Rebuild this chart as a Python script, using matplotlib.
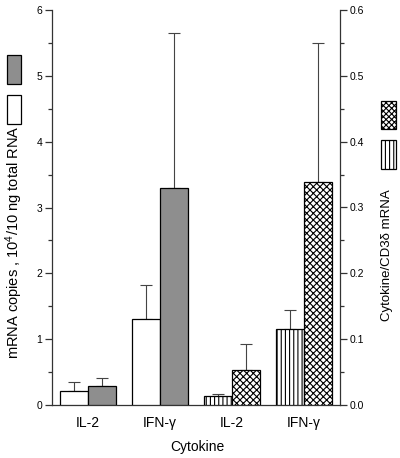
import numpy as np
import matplotlib
matplotlib.use("Agg")
import matplotlib.pyplot as plt
from matplotlib.patches import Rectangle
from matplotlib.ticker import MultipleLocator

plt.rcParams['font.family'] = ['Liberation Sans', 'DejaVu Sans']
plt.rcParams['mathtext.fontset'] = 'custom'
plt.rcParams['mathtext.rm'] = 'Liberation Sans'
plt.rcParams['mathtext.default'] = 'regular'
plt.rcParams['hatch.linewidth'] = 0.8

# data
groups = ["IL-2", "IFN-\u03b3", "IL-2", "IFN-\u03b3"]
# left axis: mRNA copies
copies_white = [0.22, 1.30]
copies_white_err = [0.13, 0.52]
copies_gray = [0.29, 3.30]
copies_gray_err = [0.12, 2.35]
# right axis: cytokine / CD3 delta ratio
ratio_vert = [0.013, 0.115]
ratio_vert_err = [0.003, 0.030]
ratio_cross = [0.053, 0.338]
ratio_cross_err = [0.040, 0.212]

W, H = 400, 458
fig = plt.figure(figsize=(W / 100, H / 100), dpi=100)
ax = fig.add_axes([52 / W, (H - 405) / H, 288 / W, 395 / H])
ax2 = ax.twinx()

centers = np.arange(len(groups)) + 0.5
bw = 0.39
lc = '#333333'

def draw(axis, x, vals, errs, **kw):
    axis.bar(x, vals, width=bw, edgecolor='black', linewidth=0.9, zorder=3, **kw)
    axis.errorbar(x, vals, yerr=[np.zeros(len(errs)), errs], fmt='none',
                  ecolor='#444444', elinewidth=0.8, capsize=4, capthick=0.8, zorder=2)

draw(ax, centers[:2] - bw / 2, copies_white, copies_white_err, color='white')
draw(ax, centers[:2] + bw / 2, copies_gray, copies_gray_err, color='#8e8e8e')
draw(ax2, centers[2:] - bw / 2, ratio_vert, ratio_vert_err, color='white', hatch='||||')
draw(ax2, centers[2:] + bw / 2, ratio_cross, ratio_cross_err, color='white', hatch='xxxxx')

ax.set_xlim(0, 4)
ax.set_ylim(0, 6)
ax2.set_ylim(0, 0.6)
ax.yaxis.set_major_locator(MultipleLocator(1))
ax.yaxis.set_minor_locator(MultipleLocator(0.5))
ax2.yaxis.set_major_locator(MultipleLocator(0.1))
ax2.yaxis.set_minor_locator(MultipleLocator(0.05))
ax2.yaxis.set_major_formatter(matplotlib.ticker.FormatStrFormatter('%.1f'))

ax.set_xticks(centers)
ax.set_xticklabels(groups, fontsize=10)
ax.tick_params(axis='x', length=0, pad=8)
for a in (ax, ax2):
    a.spines['top'].set_visible(False)
    for s in a.spines.values():
        s.set_color(lc)
        s.set_linewidth(0.9)
    a.tick_params(axis='y', which='major', length=5, width=0.9, color=lc, labelsize=7.5, pad=2)
    a.tick_params(axis='y', which='minor', length=3, width=0.9, color=lc)
ax.spines['right'].set_visible(False)
ax2.spines['left'].set_visible(False)
ax2.spines['bottom'].set_visible(False)

fig.text(197 / W, 1 - 447 / H, "Cytokine", fontsize=10, ha='center', va='center')
fig.text(14 / W, 1 - 242 / H, "mRNA copies , 10$^{4}$/10 ng total RNA",
         fontsize=10.5, rotation=90, ha='center', va='center')
fig.text(387 / W, 1 - 255 / H, "Cytokine/CD3\u03b4 mRNA",
         fontsize=9.5, rotation=90, ha='center', va='center')

# key boxes drawn beside each axis
def key(x0, y0, x1, y1, **kw):
    fig.add_artist(Rectangle((x0 / W, 1 - y1 / H), (x1 - x0) / W, (y1 - y0) / H,
                             transform=fig.transFigure, edgecolor='black',
                             linewidth=0.9, **kw))

key(7, 55, 21, 84, facecolor='#8e8e8e')
key(7, 95, 21, 124, facecolor='white')
key(381, 101, 396, 129, facecolor='white', hatch='xxxxxx')
key(381, 140, 396, 169, facecolor='white', hatch='||||')

fig.savefig("out.png", dpi=100)
